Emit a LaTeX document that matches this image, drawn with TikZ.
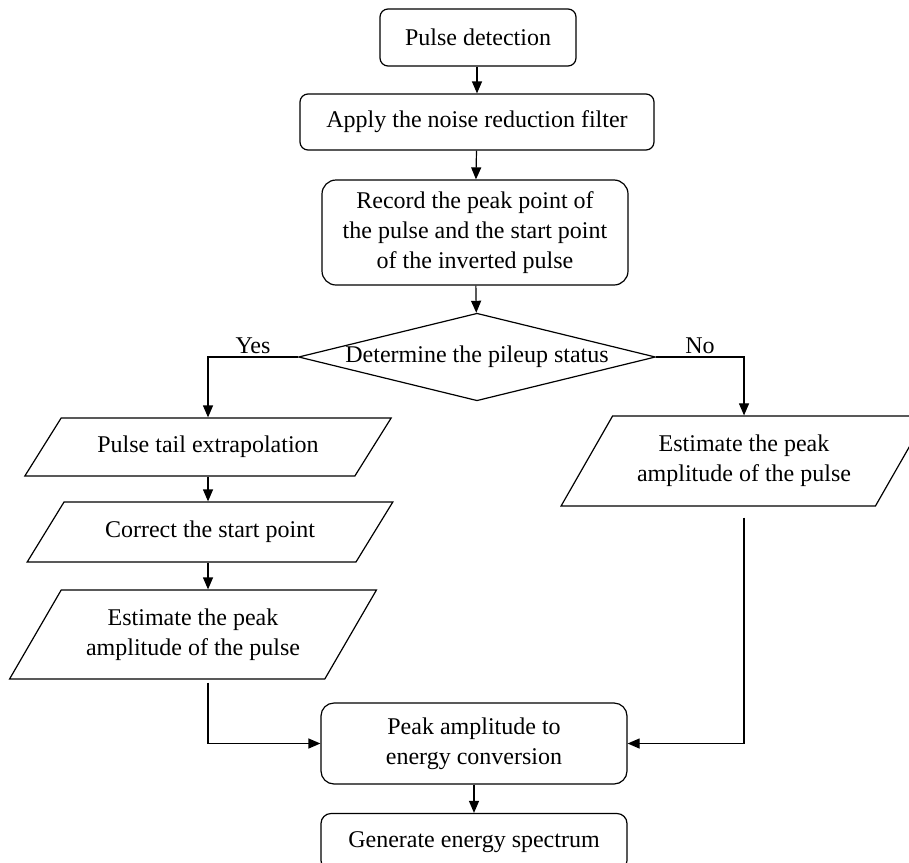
\documentclass[tikz,border=0pt]{standalone}
\usepackage{fontspec}
\setmainfont{Liberation Serif}
\usetikzlibrary{positioning,arrows.meta,shapes.geometric}

\begin{document}
\begin{tikzpicture}[x=1pt,y=-1pt,
    every node/.style={font=\fontsize{12}{15}\selectfont, align=center},
    rbox/.style={draw, line width=0.6pt, rounded corners=4pt, inner sep=0pt},
    iobox/.style={draw, line width=0.6pt, trapezium, trapezium stretches=true, inner sep=0pt},
    decide/.style={draw, line width=0.6pt, diamond, aspect=4, inner sep=0pt},
    arr/.style={line width=0.6pt, -{Triangle[length=6pt,width=5pt]}}]
  \useasboundingbox (0,0) rectangle (454.5,431);
  % main column
  \node[rbox, minimum width=98pt, minimum height=28.5pt] (det) at (239,18.75) {Pulse detection};
  \node[rbox, minimum width=177pt, minimum height=28pt] (filt) at (238.5,61) {Apply the noise reduction filter};
  \node[rbox, rounded corners=7pt, minimum width=153pt, minimum height=52.5pt] (rec) at (237.5,116.25)
    {Record the peak point of\\the pulse and the start point\\of the inverted pulse};
  \node[decide, minimum width=178.5pt, minimum height=43.5pt] (pile) at (238.5,178.5) {Determine the pileup status};
  % pileup branch (left)
  \node[iobox, trapezium left angle=38.5, trapezium right angle=141.5,
    minimum width=183.5pt, minimum height=29pt] (tail) at (104,223.5) {Pulse tail extrapolation};
  \node[iobox, trapezium left angle=39.4, trapezium right angle=140.6,
    minimum width=183pt, minimum height=30pt] (corr) at (105,266) {Correct the start point};
  \node[iobox, trapezium left angle=51, trapezium right angle=129,
    minimum width=183.5pt, minimum height=44.5pt] (estl) at (96.5,317.25) {Estimate the peak\\amplitude of the pulse};
  % no pileup (right)
  \node[iobox, trapezium left angle=51, trapezium right angle=129,
    minimum width=183pt, minimum height=45pt] (estr) at (372,230.5) {Estimate the peak\\amplitude of the pulse};
  % output
  \node[rbox, rounded corners=6.5pt, minimum width=153pt, minimum height=40.5pt] (conv) at (237,371.75)
    {Peak amplitude to\\energy conversion};
  \node[rbox, rounded corners=5pt, minimum width=153pt, minimum height=28.5pt] (spec) at (237,421) {Generate energy spectrum};

  \draw[arr] (det.south -| filt.north) -- (filt.north);
  \draw[arr] (filt) -- (rec);
  \draw[arr] (rec) -- (pile);
  \draw[arr] (pile.west) -| node[pos=0.25, above, inner sep=1.5pt] {Yes} (tail.north);
  \draw[arr] (pile.east) -| node[pos=0.25, above, inner sep=1.5pt] {No} (estr.north);
  \draw[arr] (tail.south) -- (tail.south |- corr.north);
  \draw[arr] (tail.south |- corr.south) -- (tail.south |- estl.north);
  \draw[arr, shorten <=1.5pt] (estl.south -| tail.south) |- (conv.west);
  \draw[arr, shorten <=5.5pt] (estr.south) |- (conv.east);
  \draw[arr] (conv) -- (spec);
\end{tikzpicture}
\end{document}
